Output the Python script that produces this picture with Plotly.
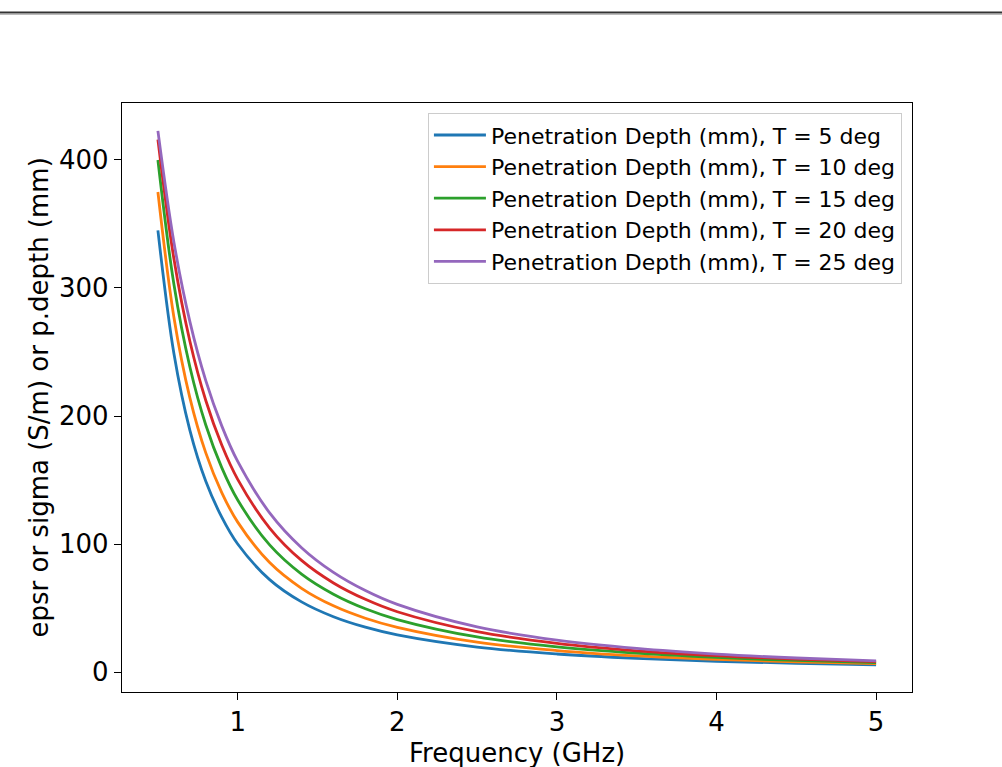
import plotly.graph_objects as go

freq = [0.5, 0.6, 0.7, 0.8, 0.9, 1.0, 1.2, 1.4, 1.6, 1.8, 2.0, 2.5, 3.0, 3.5, 4.0, 4.5, 5.0]

depth_T5 = [345, 249, 189, 149, 121, 100, 72.2, 54.8, 43.2, 35.0, 29.0, 19.5, 14.1, 10.7, 8.4, 6.8, 5.65]
depth_T10 = [375, 277.4, 214.4, 171.2, 140.2, 117.1, 85.5, 65.4, 51.7, 42.0, 34.9, 23.3, 16.8, 12.6, 9.9, 7.9, 6.52]
depth_T15 = [400, 303.1, 238.5, 193.0, 159.7, 134.4, 99.3, 76.5, 60.8, 49.4, 41.0, 27.4, 19.6, 14.7, 11.4, 9.06, 7.38]
depth_T20 = [416, 323.0, 258.6, 212.1, 177.3, 150.5, 112.5, 87.2, 69.6, 56.8, 47.1, 31.5, 22.4, 16.6, 12.8, 10.1, 8.14]
depth_T25 = [422.7, 336.0, 273.9, 227.6, 192.3, 164.5, 124.3, 97.1, 77.8, 63.6, 52.8, 35.2, 24.9, 18.4, 14.0, 10.96, 8.77]

series_names = [
    "Penetration Depth (mm), T = 5 deg",
    "Penetration Depth (mm), T = 10 deg",
    "Penetration Depth (mm), T = 15 deg",
    "Penetration Depth (mm), T = 20 deg",
    "Penetration Depth (mm), T = 25 deg",
]
series_values = [depth_T5, depth_T10, depth_T15, depth_T20, depth_T25]
colors = ["#1f77b4", "#ff7f0e", "#2ca02c", "#d62728", "#9467bd"]

x_ticks = [1, 2, 3, 4, 5]
y_ticks = [0, 100, 200, 300, 400]
x_title = "Frequency (GHz)"
y_title = "epsr or sigma (S/m) or p.depth (mm)"

FONT = "DejaVu Sans"
W, H = 1002, 767
ML, MR, MT, MB = 122, 90, 103, 75
PW, PH = W - ML - MR, H - MT - MB

fig = go.Figure()
for name, vals, col in zip(series_names, series_values, colors):
    fig.add_trace(go.Scatter(
        x=freq, y=vals, mode="lines", name=name,
        line=dict(color=col, width=2.8, shape="spline", smoothing=1.0),
    ))

fig.update_layout(
    width=W, height=H,
    margin=dict(l=ML, r=MR, t=MT, b=MB, autoexpand=False),
    paper_bgcolor="white", plot_bgcolor="white",
    font=dict(family=FONT, color="black", size=26),
    showlegend=True,
    legend=dict(
        x=0.987, y=0.983, xanchor="right", yanchor="top",
        bgcolor="rgba(255,255,255,0.8)", bordercolor="#cccccc", borderwidth=1.2,
        font=dict(family=FONT, size=22, color="black"),
        itemwidth=52, tracegroupgap=0,
    ),
    xaxis=dict(
        range=[0.275, 5.225], tickvals=x_ticks, ticktext=[str(v) for v in x_ticks],
        showgrid=False, zeroline=False, automargin=False,
        showline=True, mirror=True, linecolor="black", linewidth=1.3,
        ticks="outside", ticklen=7, tickwidth=1.3, tickcolor="black",
        tickfont=dict(family=FONT, size=26, color="black"),
    ),
    yaxis=dict(
        range=[-15.6, 444.5], tickvals=y_ticks, ticktext=[str(v) for v in y_ticks],
        showgrid=False, zeroline=False, automargin=False,
        showline=True, mirror=True, linecolor="black", linewidth=1.3,
        ticks="outside", ticklen=7, tickwidth=1.3, tickcolor="black",
        tickfont=dict(family=FONT, size=26, color="black"),
    ),
)

# axis titles
fig.add_annotation(text=x_title, xref="paper", yref="paper", x=0.5, y=-(753 - (MT + PH)) / PH,
                   xanchor="center", yanchor="middle", showarrow=False,
                   font=dict(family=FONT, size=26, color="black"))
fig.add_annotation(text=y_title, xref="paper", yref="paper", x=(38 - ML) / PW, y=0.5,
                   xanchor="center", yanchor="middle", showarrow=False, textangle=-90,
                   font=dict(family=FONT, size=26, color="black"))

# page border line at top of the screenshot
fig.add_shape(type="line", xref="paper", yref="paper",
              x0=-ML / PW, x1=(W - ML) / PW,
              y0=1 + (MT - 12.5) / PH, y1=1 + (MT - 12.5) / PH,
              line=dict(color="#333333", width=2))
fig.add_shape(type="line", xref="paper", yref="paper",
              x0=-ML / PW, x1=(W - ML) / PW,
              y0=1 + (MT - 14.5) / PH, y1=1 + (MT - 14.5) / PH,
              line=dict(color="#bbbbbb", width=1))

fig.write_html("out.html", config={"displayModeBar": False},
               post_script="document.body.style.margin='0';document.body.style.overflow='hidden';")
